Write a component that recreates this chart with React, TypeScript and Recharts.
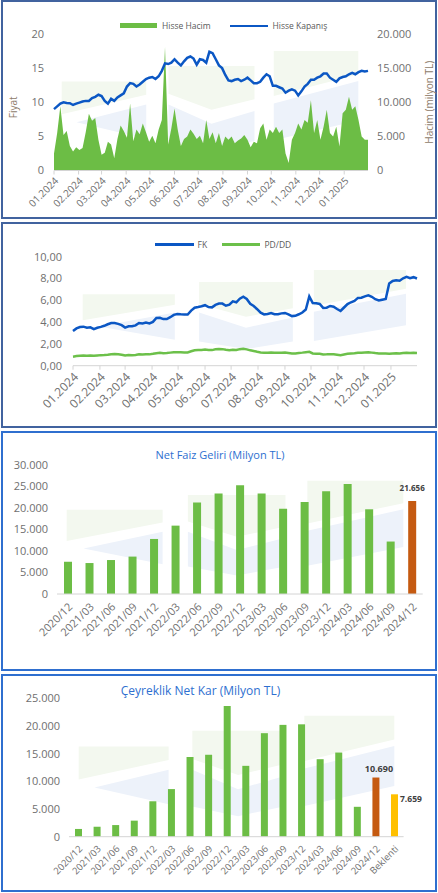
import React from "react";
import {
  Area,
  Bar,
  BarChart,
  Cell,
  ComposedChart,
  LabelList,
  Line,
  LineChart,
  XAxis,
  YAxis,
} from "recharts";

const GREEN = "#6cbd45";
const BLUE = "#0b57c4";
const ORANGE = "#c55a11";
const YELLOW = "#ffc000";
const TICK = "#6f6f6f";
const AXIS = "#d4d4d4";
const AXIS_TITLE = "#8d7b6a";
const LEGEND_TEXT = "#595959";
const TITLE_BLUE = "#2e6fd0";
const FRAME_DARK = "#41639f";
const FRAME_BRIGHT = "#2f6fcf";
const MARK_GREEN = "#f3f8ef";
const MARK_BLUE = "#edf2fa";

// days since 01.01.2024 for each month tick
const MONTH_DAYS = [0, 31, 60, 91, 121, 152, 182, 213, 244, 274, 305, 335, 366];
const MONTH_LABELS = [
  "01.2024", "02.2024", "03.2024", "04.2024", "05.2024", "06.2024", "07.2024",
  "08.2024", "09.2024", "10.2024", "11.2024", "12.2024", "01.2025",
];
const STEP_DAYS = 4;
const LAST_DAY = 396;

// closing price (TL), one point every STEP_DAYS
const CLOSE = [
  9.0, 9.4, 9.8, 10.0, 9.9, 9.85, 9.6, 9.8, 9.95, 10.1,
  10.2, 10.2, 10.6, 10.8, 11.1, 10.9, 10.2, 9.8, 10.5, 10.2,
  10.7, 11.0, 11.3, 12.3, 12.8, 12.7, 12.3, 12.6, 13.0, 13.4,
  13.6, 13.7, 13.4, 13.8, 14.6, 15.7, 15.6, 15.8, 16.3, 15.8,
  15.4, 16.0, 16.5, 16.7, 16.4, 15.5, 16.3, 16.2, 15.8, 17.4,
  17.2, 16.3, 15.4, 15.0, 14.0, 13.2, 13.1, 13.3, 13.4, 13.1,
  13.3, 13.6, 13.2, 12.8, 12.8, 13.0, 13.6, 14.1, 13.8, 12.4,
  12.4, 12.2, 12.0, 11.4, 11.7, 11.9, 11.7, 11.0, 11.6, 12.3,
  12.7, 13.3, 13.3, 13.6, 13.8, 14.2, 14.2, 13.6, 13.3, 13.0,
  13.5, 13.7, 13.8, 14.1, 14.3, 14.1, 14.4, 14.6, 14.5, 14.6,
];

// traded volume (milyon TL)
const VOLUME = [
  2500, 5500, 9400, 5200, 5800, 3600, 2800, 3400, 3000, 3300,
  5600, 8300, 7300, 7700, 4500, 2300, 2600, 4200, 3800, 1800,
  4600, 6600, 5800, 4800, 9800, 4300, 6000, 5300, 6900, 5600,
  4200, 5100, 4000, 6000, 7400, 18100, 3800, 6200, 9100, 6000,
  3600, 4600, 5000, 6000, 5400, 4600, 5100, 4000, 7400, 4600,
  5600, 4000, 5500, 3600, 5000, 4500, 5000, 4000, 4400, 4700,
  5200, 4500, 3400, 4200, 4000, 6200, 6900, 4500, 6000, 5500,
  6400, 5500, 6000, 2500, 1100, 4500, 5500, 6900, 6000, 7400,
  7000, 10300, 5500, 7400, 4500, 6400, 8900, 5500, 5000, 6400,
  3500, 8400, 8900, 10800, 8900, 9400, 7400, 5000, 4500, 4500,
];

const FK = [
  3.18, 3.42, 3.55, 3.58, 3.48, 3.52, 3.36, 3.48, 3.56, 3.66,
  3.8, 3.92, 3.92, 3.84, 3.72, 3.5, 3.62, 3.62, 3.7, 3.92,
  3.88, 3.95, 3.88, 4.02, 4.38, 4.4, 4.28, 4.28, 4.45, 4.66,
  4.74, 4.71, 4.7, 4.7, 5.05, 5.32, 5.38, 5.45, 5.55, 5.38,
  5.35, 5.58, 5.7, 5.7, 5.5, 5.6, 5.9, 5.82, 6.15, 6.33,
  6.12, 5.68, 5.48, 5.18, 4.86, 4.7, 4.75, 4.84, 4.73, 4.72,
  4.8, 4.84, 4.7, 4.55, 4.58, 4.72, 4.88, 5.15, 6.35, 5.75,
  5.72, 5.66, 5.3, 5.32, 5.48, 5.41, 5.2, 5.02, 5.34, 5.65,
  5.82, 5.95, 6.22, 6.24, 6.36, 6.46, 6.32, 6.1, 5.98, 6.05,
  6.12, 7.55, 7.78, 7.84, 7.8, 8.02, 8.15, 8.02, 8.12, 8.0,
];

const PD_DD = [
  0.83, 0.88, 0.92, 0.93, 0.92, 0.93, 0.91, 0.94, 0.97, 0.98,
  1.0, 1.04, 1.07, 1.04, 1.0, 0.93, 0.97, 0.96, 0.99, 1.04,
  1.03, 1.05, 1.04, 1.09, 1.15, 1.18, 1.15, 1.16, 1.2, 1.23,
  1.24, 1.23, 1.22, 1.22, 1.32, 1.42, 1.44, 1.45, 1.48, 1.44,
  1.43, 1.5, 1.53, 1.52, 1.46, 1.42, 1.46, 1.44, 1.52, 1.55,
  1.5, 1.41, 1.35, 1.28, 1.22, 1.18, 1.18, 1.2, 1.18, 1.18,
  1.19, 1.2, 1.16, 1.12, 1.13, 1.17, 1.2, 1.24, 1.27, 1.12,
  1.1, 1.1, 1.03, 1.04, 1.06, 1.05, 1.01, 0.97, 1.03, 1.09,
  1.12, 1.14, 1.18, 1.19, 1.21, 1.23, 1.2, 1.16, 1.13, 1.13,
  1.12, 1.1, 1.13, 1.14, 1.13, 1.16, 1.18, 1.16, 1.18, 1.16,
];

const QUARTERS = [
  "2020/12", "2021/03", "2021/06", "2021/09", "2021/12", "2022/03",
  "2022/06", "2022/09", "2022/12", "2023/03", "2023/06", "2023/09",
  "2023/12", "2024/03", "2024/06", "2024/09", "2024/12",
];
const NET_INTEREST = [
  7500, 7200, 7900, 8700, 12800, 15900, 21300, 23400, 25300,
  23400, 19800, 21400, 23900, 25600, 19700, 12200, 21656,
];
const PROFIT_QUARTERS = [...QUARTERS, "Beklenti"];
const NET_PROFIT = [
  1400, 1800, 2100, 2900, 6400, 8600, 14400, 14800, 23600,
  12800, 18700, 20200, 20300, 14000, 15200, 5400, 10690, 7659,
];

const PRICE_TICKS = [0, 5, 10, 15, 20];
const VOLUME_TICKS = [0, 5000, 10000, 15000, 20000];
const RATIO_TICKS = [0, 2, 4, 6, 8, 10];
const NII_TICKS = [0, 5000, 10000, 15000, 20000, 25000, 30000];
const PROFIT_TICKS = [0, 5000, 10000, 15000, 20000, 25000];

const priceData = CLOSE.map((close, i) => ({ day: i * STEP_DAYS, close, volume: VOLUME[i] }));
const ratioData = FK.map((fk, i) => ({ day: i * STEP_DAYS, fk, pddd: PD_DD[i] }));
const niiData = QUARTERS.map((q, i) => ({ q, value: NET_INTEREST[i] }));
const profitData = PROFIT_QUARTERS.map((q, i) => ({ q, value: NET_PROFIT[i] }));

const fmtThousands = (v: number) =>
  Math.round(v).toString().replace(/\B(?=(\d{3})+(?!\d))/g, ".");
const fmtComma = (v: number) => v.toFixed(2).replace(".", ",");
const monthLabel = (d: number) => MONTH_LABELS[MONTH_DAYS.indexOf(d)] ?? "";

const barColor = (q: string) =>
  q === "Beklenti" ? YELLOW : q === "2024/12" ? ORANGE : GREEN;

// logo watermark, relative to a box
const MARK_GREEN_SHAPES = [
  [[0, 0.286], [0.285, 0.286], [0.285, 0.41], [0, 0.59]],
  [[0.36, 0.14], [0.65, 0.14], [0.65, 0.45], [0.505, 0.55], [0.36, 0.4]],
  [[0.715, 0], [1, 0], [1, 0.22], [0.715, 0.42]],
];
const MARK_BLUE_SHAPES = [
  [[0.05, 0.665], [0.285, 0.5], [0.285, 0.82]],
  [[0.36, 0.5], [0.505, 0.68], [0.65, 0.56], [0.65, 0.84], [0.505, 0.93], [0.36, 0.84]],
  [[0.715, 0.49], [1, 0.28], [1, 0.65], [0.715, 0.835]],
];

const Watermark = ({ x, y, w, h }: { x: number; y: number; w: number; h: number }) => {
  const pts = (shape: number[][]) => shape.map(([u, v]) => `${x + u * w},${y + v * h}`).join(" ");
  return (
    <g>
      {MARK_GREEN_SHAPES.map((s, i) => <polygon key={`g${i}`} points={pts(s)} fill={MARK_GREEN} />)}
      {MARK_BLUE_SHAPES.map((s, i) => <polygon key={`b${i}`} points={pts(s)} fill={MARK_BLUE} />)}
    </g>
  );
};

const AxisTitle = (props: any) => {
  const { viewBox, value, side, dy = 0 } = props;
  const cx = side === "left" ? viewBox.x + 12.5 : viewBox.x + viewBox.width - 9;
  const cy = viewBox.y + viewBox.height / 2 + dy;
  return (
    <text
      x={cx}
      y={cy}
      transform={`rotate(-90 ${cx} ${cy})`}
      textAnchor="middle"
      dominantBaseline="central"
      fill={AXIS_TITLE}
      fontSize={10}
    >
      {value}
    </text>
  );
};

const LegendText = ({ x, y, size = 8.5, children }: any) => (
  <span
    style={{
      position: "absolute",
      left: x,
      top: y,
      transform: "translateY(-50%)",
      fontSize: size,
      lineHeight: 1,
      color: LEGEND_TEXT,
      whiteSpace: "nowrap",
    }}
  >
    {children}
  </span>
);

const Title = ({ cx, cy, size, children }: any) => (
  <span
    style={{
      position: "absolute",
      left: cx,
      top: cy,
      transform: "translate(-50%, -50%)",
      fontSize: size,
      lineHeight: 1,
      color: TITLE_BLUE,
      whiteSpace: "nowrap",
    }}
  >
    {children}
  </span>
);

const Frame = ({ top, height, color }: { top: number; height: number; color: string }) => (
  <div
    style={{
      position: "absolute",
      left: 1,
      top,
      width: 436,
      height,
      border: `2px solid ${color}`,
      boxSizing: "border-box",
    }}
  />
);

const labelBox = (p: any) => {
  const v = p.viewBox ?? p;
  return { x: Number(v.x), y: Number(v.y), width: Number(v.width) };
};

const niiLabel = (p: any) => {
  if (QUARTERS[p.index] !== "2024/12") return null;
  const { x, y, width } = labelBox(p);
  return (
    <text x={x + width / 2} y={y - 10} textAnchor="middle" fontSize={8} fontWeight={700} fill="#404040">
      {fmtThousands(Number(p.value))}
    </text>
  );
};

const profitLabel = (p: any) => {
  const q = PROFIT_QUARTERS[p.index];
  const { x, y, width } = labelBox(p);
  if (q === "2024/12") {
    return (
      <text x={x + width / 2 + 3} y={y - 6} textAnchor="middle" fontSize={9} fontWeight={700} fill="#404040">
        {fmtThousands(Number(p.value))}
      </text>
    );
  }
  if (q === "Beklenti") {
    return (
      <text x={x + width + 2} y={y + 8} textAnchor="start" fontSize={8.5} fontWeight={700} fill="#404040">
        {fmtThousands(Number(p.value))}
      </text>
    );
  }
  return null;
};

export default function App() {
  return (
    <div
      style={{
        position: "relative",
        width: 438,
        height: 893,
        background: "#fff",
        fontFamily: '"Open Sans", sans-serif',
        overflow: "hidden",
      }}
    >
      <style>{"body{margin:0}"}</style>

      <svg width={438} height={893} style={{ position: "absolute", left: 0, top: 0 }}>
        <Watermark x={61.7} y={51} w={296.6} h={107} />
        <Watermark x={82.7} y={270} w={323.3} h={85} />
        <Watermark x={66.7} y={480.7} w={336.6} h={102} />
        <Watermark x={78.7} y={715.7} w={315.6} h={108} />
      </svg>

      <Frame top={0} height={219} color={FRAME_DARK} />
      <Frame top={222} height={206} color={FRAME_DARK} />
      <Frame top={431} height={240} color={FRAME_BRIGHT} />
      <Frame top={674} height={218} color={FRAME_BRIGHT} />

      {/* price and volume */}
      <div style={{ position: "absolute", left: 0, top: 0 }}>
        <ComposedChart width={438} height={219} data={priceData} margin={{ top: 34, right: 0, bottom: 8.5, left: 0 }}>
          <XAxis
            dataKey="day"
            type="number"
            domain={[0, LAST_DAY]}
            ticks={MONTH_DAYS}
            tickFormatter={monthLabel}
            interval={0}
            angle={-45}
            textAnchor="end"
            height={40}
            stroke={AXIS}
            tickSize={4}
            tick={{ fill: TICK, fontSize: 10 }}
          />
          <YAxis
            yAxisId="price"
            domain={[0, 20]}
            ticks={PRICE_TICKS}
            width={54}
            axisLine={false}
            tickLine={false}
            tickMargin={4}
            tick={{ fill: TICK, fontSize: 11 }}
            label={{ value: "Fiyat", content: (p: any) => <AxisTitle {...p} side="left" dy={5} /> }}
          />
          <YAxis
            yAxisId="volume"
            orientation="right"
            domain={[0, 20000]}
            ticks={VOLUME_TICKS}
            tickFormatter={fmtThousands}
            width={70}
            axisLine={false}
            tickLine={false}
            tickMargin={3}
            tick={{ fill: TICK, fontSize: 11 }}
            label={{ value: "Hacim (milyon TL)", content: (p: any) => <AxisTitle {...p} side="right" /> }}
          />
          <Area
            yAxisId="volume"
            dataKey="volume"
            type="linear"
            fill={GREEN}
            fillOpacity={1}
            stroke="none"
            isAnimationActive={false}
          />
          <Line
            yAxisId="price"
            dataKey="close"
            type="linear"
            stroke={BLUE}
            strokeWidth={2.5}
            dot={false}
            isAnimationActive={false}
          />
        </ComposedChart>
      </div>
      <div style={{ position: "absolute", left: 120, top: 23, width: 37, height: 5, background: GREEN }} />
      <LegendText x={162} y={25.5}>Hisse Hacim</LegendText>
      <div style={{ position: "absolute", left: 230, top: 24.5, width: 38, height: 2, background: BLUE }} />
      <LegendText x={272.5} y={25.5}>Hisse Kapanış</LegendText>

      {/* valuation ratios */}
      <div style={{ position: "absolute", left: 0, top: 222 }}>
        <LineChart width={438} height={206} data={ratioData} margin={{ top: 34.7, right: 21, bottom: 12.3, left: 0 }}>
          <XAxis
            dataKey="day"
            type="number"
            domain={[0, LAST_DAY]}
            ticks={MONTH_DAYS}
            tickFormatter={monthLabel}
            interval={0}
            angle={-45}
            textAnchor="end"
            height={50}
            stroke={AXIS}
            tickSize={4}
            tick={{ fill: TICK, fontSize: 12 }}
          />
          <YAxis
            domain={[0, 10]}
            ticks={RATIO_TICKS}
            tickFormatter={fmtComma}
            width={73}
            axisLine={false}
            tickLine={false}
            tickMargin={5}
            tick={{ fill: TICK, fontSize: 11 }}
          />
          <Line dataKey="fk" type="linear" stroke={BLUE} strokeWidth={2.5} dot={false} isAnimationActive={false} />
          <Line dataKey="pddd" type="linear" stroke="#6cc04a" strokeWidth={2.5} dot={false} isAnimationActive={false} />
        </LineChart>
      </div>
      <div style={{ position: "absolute", left: 155, top: 243, width: 39, height: 2.5, background: BLUE }} />
      <LegendText x={197.5} y={244.5}>FK</LegendText>
      <div style={{ position: "absolute", left: 222, top: 243, width: 38, height: 2.5, background: "#6cc04a" }} />
      <LegendText x={264.5} y={244.5}>PD/DD</LegendText>

      {/* net interest income */}
      <Title cx={220} cy={454} size={11}>Net Faiz Geliri (Milyon TL)</Title>
      <div style={{ position: "absolute", left: 0, top: 431 }}>
        <BarChart width={438} height={240} data={niiData} margin={{ top: 34, right: 15.3, bottom: 22, left: 0 }}>
          <XAxis
            dataKey="q"
            interval={0}
            angle={-45}
            textAnchor="end"
            height={55}
            stroke={AXIS}
            tickLine={false}
            tick={{ fill: TICK, fontSize: 11 }}
          />
          <YAxis
            domain={[0, 30000]}
            ticks={NII_TICKS}
            tickFormatter={fmtThousands}
            width={57}
            axisLine={false}
            tickLine={false}
            tickMargin={3}
            tick={{ fill: TICK, fontSize: 11 }}
          />
          <Bar dataKey="value" barSize={8} isAnimationActive={false}>
            {niiData.map((d) => (
              <Cell key={d.q} fill={barColor(d.q)} />
            ))}
            <LabelList dataKey="value" content={niiLabel} />
          </Bar>
        </BarChart>
      </div>

      {/* quarterly net profit */}
      <Title cx={200.5} cy={691} size={12}>Çeyreklik Net Kar (Milyon TL)</Title>
      <div style={{ position: "absolute", left: 0, top: 674 }}>
        <BarChart width={438} height={218} data={profitData} margin={{ top: 24.3, right: 34.4, bottom: 5.3, left: 0 }}>
          <XAxis
            dataKey="q"
            interval={0}
            angle={-45}
            textAnchor="end"
            height={50}
            stroke={AXIS}
            tickLine={false}
            tick={{ fill: TICK, fontSize: 9.5 }}
          />
          <YAxis
            domain={[0, 25000]}
            ticks={PROFIT_TICKS}
            tickFormatter={fmtThousands}
            width={69}
            axisLine={false}
            tickLine={false}
            tickMargin={3}
            tick={{ fill: TICK, fontSize: 11 }}
          />
          <Bar dataKey="value" barSize={7} isAnimationActive={false}>
            {profitData.map((d) => (
              <Cell key={d.q} fill={barColor(d.q)} />
            ))}
            <LabelList dataKey="value" content={profitLabel} />
          </Bar>
        </BarChart>
      </div>
    </div>
  );
}
